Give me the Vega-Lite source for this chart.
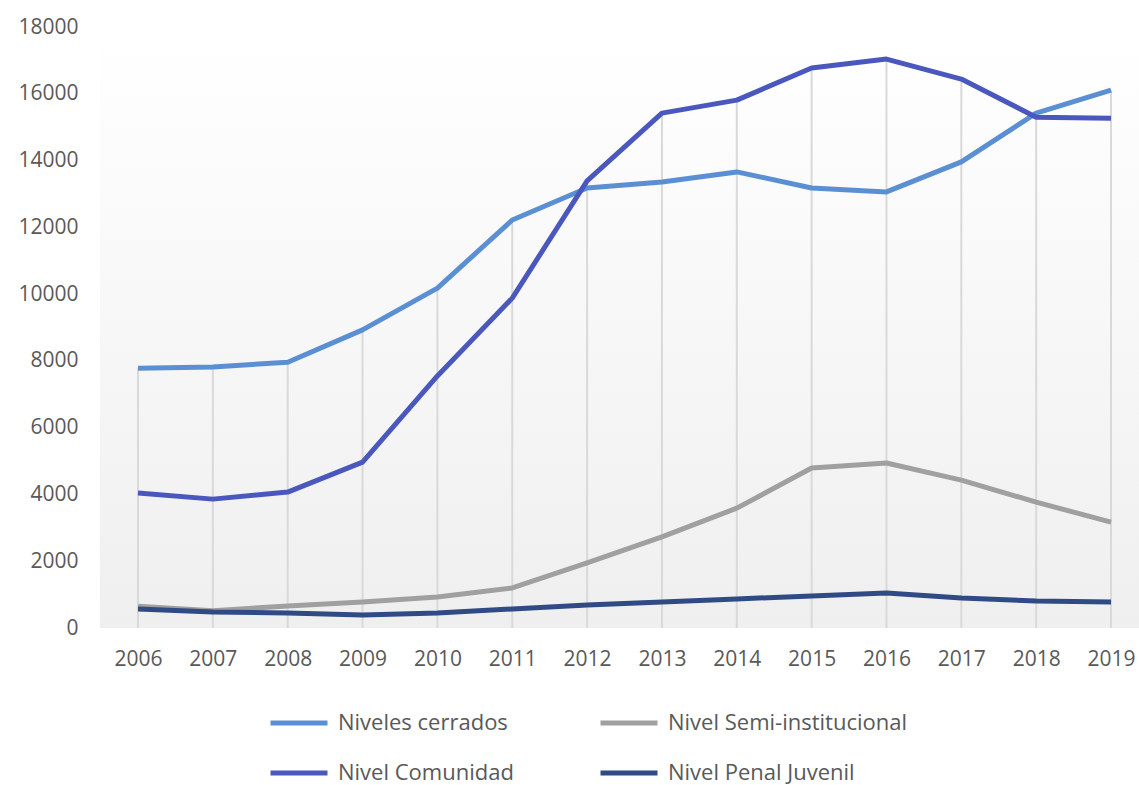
{
  "$schema": "https://vega.github.io/schema/vega-lite/v6.json",
  "width": 1039,
  "height": 601,
  "autosize": {"type": "none"},
  "padding": {"left": 100, "top": 27, "right": 0, "bottom": 157},
  "background": "#ffffff",
  "config": {
    "view": {
      "stroke": null,
      "fill": {"gradient": "linear", "x1": 0, "y1": 0, "x2": 0, "y2": 1, "stops": [{"offset": 0, "color": "#ffffff"}, {"offset": 1, "color": "#efefef"}]}
    },
    "font": "Open Sans"
  },
  "data": {
    "values": [
      {"year": 2006, "serie": "Niveles cerrados", "value": 7780},
      {"year": 2007, "serie": "Niveles cerrados", "value": 7820},
      {"year": 2008, "serie": "Niveles cerrados", "value": 7960},
      {"year": 2009, "serie": "Niveles cerrados", "value": 8930},
      {"year": 2010, "serie": "Niveles cerrados", "value": 10180},
      {"year": 2011, "serie": "Niveles cerrados", "value": 12220},
      {"year": 2012, "serie": "Niveles cerrados", "value": 13180},
      {"year": 2013, "serie": "Niveles cerrados", "value": 13360},
      {"year": 2014, "serie": "Niveles cerrados", "value": 13660},
      {"year": 2015, "serie": "Niveles cerrados", "value": 13180},
      {"year": 2016, "serie": "Niveles cerrados", "value": 13060},
      {"year": 2017, "serie": "Niveles cerrados", "value": 13960},
      {"year": 2018, "serie": "Niveles cerrados", "value": 15420},
      {"year": 2019, "serie": "Niveles cerrados", "value": 16110},
      {"year": 2006, "serie": "Nivel Semi-institucional", "value": 650},
      {"year": 2007, "serie": "Nivel Semi-institucional", "value": 520},
      {"year": 2008, "serie": "Nivel Semi-institucional", "value": 660},
      {"year": 2009, "serie": "Nivel Semi-institucional", "value": 780},
      {"year": 2010, "serie": "Nivel Semi-institucional", "value": 930},
      {"year": 2011, "serie": "Nivel Semi-institucional", "value": 1200},
      {"year": 2012, "serie": "Nivel Semi-institucional", "value": 1950},
      {"year": 2013, "serie": "Nivel Semi-institucional", "value": 2730},
      {"year": 2014, "serie": "Nivel Semi-institucional", "value": 3590},
      {"year": 2015, "serie": "Nivel Semi-institucional", "value": 4790},
      {"year": 2016, "serie": "Nivel Semi-institucional", "value": 4940},
      {"year": 2017, "serie": "Nivel Semi-institucional", "value": 4430},
      {"year": 2018, "serie": "Nivel Semi-institucional", "value": 3770},
      {"year": 2019, "serie": "Nivel Semi-institucional", "value": 3170},
      {"year": 2006, "serie": "Nivel Comunidad", "value": 4040},
      {"year": 2007, "serie": "Nivel Comunidad", "value": 3860},
      {"year": 2008, "serie": "Nivel Comunidad", "value": 4070},
      {"year": 2009, "serie": "Nivel Comunidad", "value": 4970},
      {"year": 2010, "serie": "Nivel Comunidad", "value": 7550},
      {"year": 2011, "serie": "Nivel Comunidad", "value": 9880},
      {"year": 2012, "serie": "Nivel Comunidad", "value": 13390},
      {"year": 2013, "serie": "Nivel Comunidad", "value": 15420},
      {"year": 2014, "serie": "Nivel Comunidad", "value": 15810},
      {"year": 2015, "serie": "Nivel Comunidad", "value": 16770},
      {"year": 2016, "serie": "Nivel Comunidad", "value": 17040},
      {"year": 2017, "serie": "Nivel Comunidad", "value": 16440},
      {"year": 2018, "serie": "Nivel Comunidad", "value": 15300},
      {"year": 2019, "serie": "Nivel Comunidad", "value": 15270},
      {"year": 2006, "serie": "Nivel Penal Juvenil", "value": 570},
      {"year": 2007, "serie": "Nivel Penal Juvenil", "value": 480},
      {"year": 2008, "serie": "Nivel Penal Juvenil", "value": 450},
      {"year": 2009, "serie": "Nivel Penal Juvenil", "value": 390},
      {"year": 2010, "serie": "Nivel Penal Juvenil", "value": 450},
      {"year": 2011, "serie": "Nivel Penal Juvenil", "value": 570},
      {"year": 2012, "serie": "Nivel Penal Juvenil", "value": 690},
      {"year": 2013, "serie": "Nivel Penal Juvenil", "value": 780},
      {"year": 2014, "serie": "Nivel Penal Juvenil", "value": 870},
      {"year": 2015, "serie": "Nivel Penal Juvenil", "value": 960},
      {"year": 2016, "serie": "Nivel Penal Juvenil", "value": 1050},
      {"year": 2017, "serie": "Nivel Penal Juvenil", "value": 900},
      {"year": 2018, "serie": "Nivel Penal Juvenil", "value": 810},
      {"year": 2019, "serie": "Nivel Penal Juvenil", "value": 780}
    ]
  },
  "encoding": {
    "x": {
      "field": "year",
      "type": "quantitative",
      "scale": {"domain": [2005.492, 2019.374], "nice": false, "zero": false},
      "axis": {
        "title": null,
        "values": [2006, 2007, 2008, 2009, 2010, 2011, 2012, 2013, 2014, 2015, 2016, 2017, 2018, 2019],
        "format": "d",
        "domain": false,
        "ticks": false,
        "grid": false,
        "labelFontSize": 21,
        "labelColor": "#595959",
        "labelPadding": 20,
        "labelFlush": false,
        "labelOverlap": false
      }
    }
  },
  "layer": [
    {
      "mark": {"type": "rule", "color": "#d9d9d9", "strokeWidth": 2},
      "encoding": {
        "y": {
          "aggregate": "max",
          "field": "value",
          "type": "quantitative",
          "scale": {"domain": [0, 18000], "nice": false},
          "axis": {
            "title": null,
            "values": [0, 2000, 4000, 6000, 8000, 10000, 12000, 14000, 16000, 18000],
            "format": "d",
            "domain": false,
            "ticks": false,
            "grid": false,
            "labelFontSize": 21,
            "labelColor": "#595959",
            "labelPadding": 22
          }
        },
        "y2": {"datum": 0}
      }
    },
    {
      "mark": {"type": "line", "strokeWidth": 5, "strokeCap": "butt", "strokeJoin": "round"},
      "encoding": {
        "y": {"field": "value", "type": "quantitative"},
        "color": {
          "field": "serie",
          "type": "nominal",
          "sort": ["Niveles cerrados", "Nivel Semi-institucional", "Nivel Comunidad", "Nivel Penal Juvenil"],
          "scale": {
            "domain": ["Niveles cerrados", "Nivel Semi-institucional", "Nivel Comunidad", "Nivel Penal Juvenil"],
            "range": ["#5b8fd4", "#a0a0a0", "#4a58bd", "#2f4a85"]
          },
          "legend": {
            "title": null,
            "orient": "none",
            "legendX": 168,
            "legendY": 665,
            "columns": 2,
            "direction": "horizontal",
            "symbolType": "stroke",
            "symbolSize": 3249,
            "symbolStrokeWidth": 5,
            "labelFontSize": 22,
            "labelColor": "#595959",
            "labelOffset": 8,
            "labelLimit": 400,
            "columnPadding": 76,
            "rowPadding": 8
          }
        },
        "order": {"field": "year"}
      }
    }
  ]
}
